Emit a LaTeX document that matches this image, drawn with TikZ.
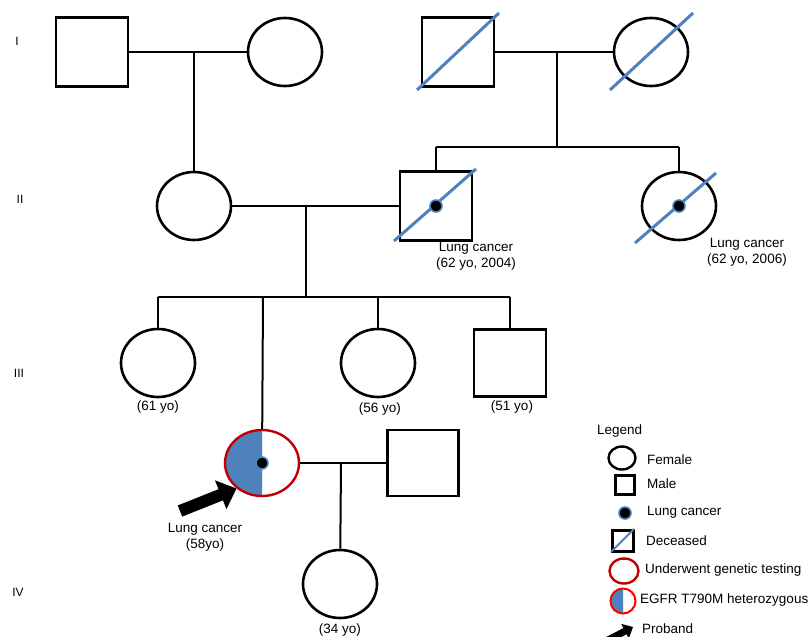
\documentclass[tikz,border=0pt]{standalone}
\usepackage{fontspec}
\setmainfont{Liberation Sans}
\usetikzlibrary{shapes.geometric,arrows.meta}
\definecolor{sblue}{HTML}{4F81BD}
\definecolor{dred}{HTML}{C00000}
\begin{document}
\begin{tikzpicture}[x=1pt,y=-1pt,
  female/.style={ellipse,draw,line width=2.6pt,inner sep=0pt,minimum width=74pt,minimum height=68pt},
  male/.style={rectangle,draw,line width=2.6pt,inner sep=0pt,minimum width=72pt,minimum height=69pt},
  rel/.style={line width=2pt},
  slash/.style={sblue,line width=3pt},
  cdot/.style={circle,fill=black,draw=sblue,line width=1.6pt,inner sep=0pt,minimum size=12pt},
  lbl/.style={font=\fontsize{13.5}{16}\selectfont,align=center,inner sep=0pt},
  leg/.style={font=\fontsize{13.5}{16}\selectfont,anchor=west,inner sep=0pt},
  gen/.style={font=\fontsize{12}{14}\selectfont,inner sep=0pt}]
\useasboundingbox (0,0) rectangle (811,637);
% generation labels
\node[gen] (gI) at (17,41) {I};
\node[gen] (gII) at (20,199) {II};
\node[gen] (gIII) at (19,373) {III};
\node[gen] (gIV) at (18,592) {IV};
% Gen I
\node[male] (m1) at (92,52) {};
\node[female] (f1) at (285,52) {};
\node[male] (m2) at (458,52) {};
\node[female] (f2) at (651,52) {};
\draw[slash] (m2.center) ++(-41,38) -- ++(82,-77);
\draw[slash] (f2.center) ++(-41,38) -- ++(83,-77);
\coordinate (c1) at (194,52);
\coordinate (c2) at (557,52);
\coordinate (s2) at (557,147);
\coordinate (s2l) at (436,147);
\coordinate (s2r) at (679,147);
\draw[rel] (m1) -- (f1);
\draw[rel] (m2) -- (f2);
% Gen II
\node[female] (f3) at (194,206) {};
\node[male] (m3) at (436,206) {};
\node[female] (f4) at (679,206) {};
\draw[slash] (m3.center) ++(-42,35) -- ++(82,-72);
\draw[slash] (f4.center) ++(-44,37) -- ++(81,-70);
\node[cdot] (d3) at (436,206) {};
\node[cdot] (d4) at (679,206) {};
\draw[rel] (c1) -- (f3);
\draw[rel] (c2) -- (s2);
\draw[rel] (s2l) -- (s2r);
\draw[rel] (s2l) -- (m3);
\draw[rel] (s2r) -- (f4);
\draw[rel] (f3) -- (m3);
\node[lbl] (l3) at (476,256) {Lung cancer\\(62 yo, 2004)};
\node[lbl] (l4) at (747,252) {Lung cancer\\(62 yo, 2006)};
% Gen III
\coordinate (c3) at (306,206);
\coordinate (s3) at (306,297);
\coordinate (s3l) at (158,297);
\coordinate (s3r) at (510,297);
\coordinate (s3p) at (263,297);
\coordinate (s3a) at (378,297);
\draw[rel] (c3) -- (s3);
\draw[rel] (s3l) -- (s3r);
\node[female] (f5) at (158,363) {};
\node[female] (f6) at (378,363) {};
\node[male,minimum height=67pt] (m6) at (510,363) {};
\draw[rel] (s3l) -- (f5);
\draw[rel] (s3a) -- (f6);
\draw[rel] (s3r) -- (m6);
\node[lbl] (l5) at (158,407) {(61 yo)};
\node[lbl] (l6) at (380,409) {(56 yo)};
\node[lbl] (l7) at (512,407) {(51 yo)};
% proband
\begin{scope}
\clip (220,420) rectangle (262,505);
\fill[sblue] (262,463) ellipse [x radius=37pt,y radius=33pt];
\end{scope}
\node[ellipse,draw=dred,line width=2.4pt,inner sep=0pt,minimum width=74pt,minimum height=66pt] (p) at (262,463) {};
\node[cdot] (pd) at (262,463) {};
\draw[rel] (s3p) -- (p);
\node[male,minimum width=71pt,minimum height=66pt] (m7) at (423,463) {};
\draw[rel] (p) -- (m7);
\coordinate (c4) at (341,463);
\node[female] (f8) at (340,584) {};
\draw[rel] (c4) -- (f8);
\node[lbl] (l8) at (340,630) {(34 yo)};
\coordinate (pa) at (180,511);
\draw[line width=12pt,-{Triangle[length=17pt,width=30pt]}] (pa) -- (p.225);
\node[lbl] (lp) at (205,537) {Lung cancer\\(58yo)};
% legend
\node[lbl,anchor=west] (lg) at (597,431) {Legend};
\node[ellipse,draw,line width=2.4pt,inner sep=0pt,minimum width=27pt,minimum height=23pt] (lf) at (622,458) {};
\node[leg] (lft) at (647,460) {Female};
\node[rectangle,draw,line width=3pt,inner sep=0pt,minimum size=19pt] (lm) at (625,485) {};
\node[leg] (lmt) at (647,484) {Male};
\node[cdot] (ld) at (625,513) {};
\node[leg] (ldt) at (647,512) {Lung cancer};
\node[rectangle,draw,line width=2.4pt,inner sep=0pt,minimum size=21pt] (ldc) at (623,541) {};
\draw[sblue,line width=2pt] (ldc.center) ++(-12,11) -- ++(23,-23);
\node[leg] (ldct) at (646,541) {Deceased};
\node[ellipse,draw=dred,line width=2.4pt,inner sep=0pt,minimum width=29pt,minimum height=25pt] (lt) at (624,571) {};
\node[leg] (ltt) at (645,570) {Underwent genetic testing};
\begin{scope}
\clip (600,585) rectangle (623,620);
\fill[sblue] (623,601) ellipse [x radius=12pt,y radius=12pt];
\end{scope}
\node[circle,draw=red,line width=2pt,inner sep=0pt,minimum size=25pt] (le) at (623,601) {};
\node[leg] (let) at (640,600) {EGFR T790M heterozygous};
\coordinate (la) at (608,640);
\coordinate (lat) at (633,627);
\draw[line width=7pt,-{Triangle[length=9pt,width=16pt]}] (la) -- (lat);
\node[leg] (lat2) at (642,629) {Proband};
\end{tikzpicture}
\end{document}
